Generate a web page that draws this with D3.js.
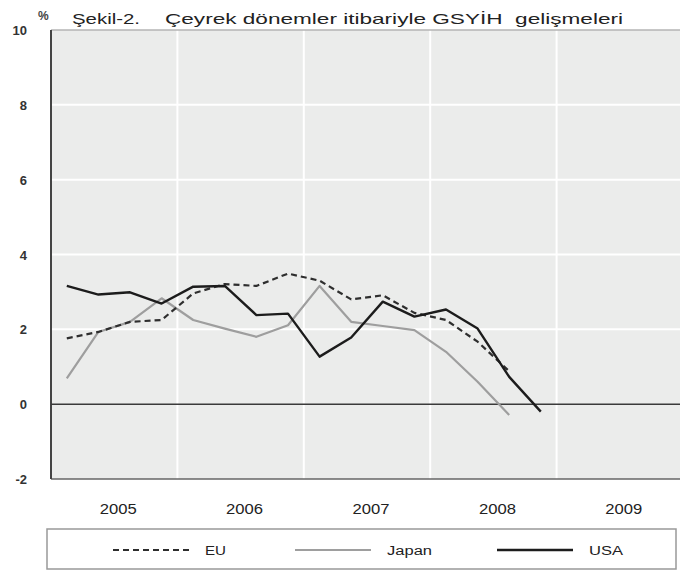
<!DOCTYPE html>
<html lang="tr">
<head>
<meta charset="UTF-8">
<title>Şekil-2</title>
<style>
  body { margin: 0; background: #fff; }
  text { font-family: "Liberation Sans", Arial, sans-serif; fill: #222; }
</style>
</head>
<body>
<div id="chart"></div>
<script src="https://cdn.jsdelivr.net/npm/d3@7"></script>
<script>
// data (quarterly GDP growth, %)
const years = [2005, 2006, 2007, 2008, 2009];
const quarters = ["2005Q1","2005Q2","2005Q3","2005Q4","2006Q1","2006Q2","2006Q3","2006Q4",
                  "2007Q1","2007Q2","2007Q3","2007Q4","2008Q1","2008Q2","2008Q3","2008Q4"];
const euValues    = [1.76, 1.93, 2.2, 2.25, 2.96, 3.21, 3.16, 3.49, 3.3, 2.8, 2.91, 2.44, 2.25, 1.67, 0.88];
const japanValues = [0.69, 1.93, 2.2, 2.83, 2.25, 2.02, 1.8, 2.11, 3.16, 2.2, 2.09, 1.98, 1.4, 0.6, -0.29];
const usaValues   = [3.16, 2.93, 2.99, 2.69, 3.14, 3.16, 2.38, 2.42, 1.27, 1.78, 2.74, 2.34, 2.53, 2.02, 0.73, -0.2];
const yTicks = [-2, 0, 2, 4, 6, 8, 10];
const seriesNames = ["EU", "Japan", "USA"];

const width = 680, height = 573;
const plot = {left: 51, right: 683, top: 30, bottom: 479};

const svg = d3.select("#chart").append("svg")
  .attr("width", width)
  .attr("height", height);

const x = d3.scaleLinear().domain([2005, 2010]).range([plot.left, plot.right]);
const y = d3.scaleLinear().domain([-2, 10]).range([plot.bottom, plot.top]);

// quarter -> year fraction (middle of the quarter)
const qx = q => x(+q.slice(0, 4) + (+q.slice(5) - 0.5) / 4);

// plot background
svg.append("rect")
  .attr("x", plot.left).attr("y", plot.top)
  .attr("width", plot.right - plot.left).attr("height", plot.bottom - plot.top)
  .attr("fill", "#ebeceb");

// white grid
svg.append("g").selectAll("line")
  .data(yTicks.filter(d => d > 0 && d < 10))
  .join("line")
    .attr("x1", plot.left).attr("x2", plot.right)
    .attr("y1", d => y(d)).attr("y2", d => y(d))
    .attr("stroke", "#fff").attr("stroke-width", 2);
svg.append("g").selectAll("line")
  .data(years.slice(1))
  .join("line")
    .attr("x1", d => x(d)).attr("x2", d => x(d))
    .attr("y1", plot.top).attr("y2", plot.bottom)
    .attr("stroke", "#fff").attr("stroke-width", 2);

// frame
svg.append("line")
  .attr("x1", plot.left).attr("x2", plot.right)
  .attr("y1", plot.top).attr("y2", plot.top)
  .attr("stroke", "#b5b5b5").attr("stroke-width", 1.5);
svg.append("line")
  .attr("x1", plot.left).attr("x2", plot.right)
  .attr("y1", plot.bottom).attr("y2", plot.bottom)
  .attr("stroke", "#666").attr("stroke-width", 1.5);
svg.append("line")
  .attr("x1", plot.left).attr("x2", plot.left)
  .attr("y1", plot.top).attr("y2", plot.bottom)
  .attr("stroke", "#444").attr("stroke-width", 2);
// zero line
svg.append("line")
  .attr("x1", plot.left).attr("x2", plot.right)
  .attr("y1", y(0)).attr("y2", y(0))
  .attr("stroke", "#3a3a3a").attr("stroke-width", 1.5);

// y labels
svg.append("g").selectAll("text")
  .data(yTicks)
  .join("text")
    .attr("x", 27)
    .attr("y", d => y(d) + 5)
    .attr("text-anchor", "end")
    .attr("font-size", 13)
    .attr("font-weight", "bold")
    .style("fill", "#333")
    .text(d => d);

// x labels (one per year, centred in the year)
svg.append("g").selectAll("text")
  .data(years)
  .join("text")
    .attr("x", d => x(d + 0.5) + 4)
    .attr("y", 514)
    .attr("text-anchor", "middle")
    .attr("font-size", 14)
    .attr("textLength", 37)
    .attr("lengthAdjust", "spacingAndGlyphs")
    .text(d => d);

// title
svg.append("text").attr("x", 38).attr("y", 20)
  .attr("font-size", 12).attr("font-weight", "bold").style("fill", "#444").text("%");
svg.append("text").attr("x", 72).attr("y", 24)
  .attr("font-size", 15)
  .attr("textLength", 68).attr("lengthAdjust", "spacingAndGlyphs")
  .text("Şekil-2.");
svg.append("text").attr("x", 165).attr("y", 24)
  .attr("font-size", 15)
  .attr("textLength", 458).attr("lengthAdjust", "spacingAndGlyphs")
  .text("Çeyrek dönemler itibariyle GSYİH\u00a0 gelişmeleri");

// lines
const line = d3.line()
  .x((d, i) => qx(quarters[i]))
  .y(d => y(d));

const styles = {
  EU:    {values: euValues,    stroke: "#2e2e2e", width: 2.2, dash: "6,4"},
  Japan: {values: japanValues, stroke: "#9e9e9e", width: 2.2, dash: null},
  USA:   {values: usaValues,   stroke: "#1c1c1c", width: 2.4, dash: null}
};

["Japan", "EU", "USA"].forEach(k => {
  svg.append("path")
    .attr("d", line(styles[k].values))
    .attr("fill", "none")
    .attr("stroke", styles[k].stroke)
    .attr("stroke-width", styles[k].width)
    .attr("stroke-dasharray", styles[k].dash)
    .attr("stroke-linejoin", "round");
});

// legend
const legend = svg.append("g");
legend.append("rect")
  .attr("x", 47).attr("y", 529).attr("width", 629).attr("height", 40)
  .attr("fill", "#fff").attr("stroke", "#999").attr("stroke-width", 1.5);

const legendX = {EU: 113, Japan: 295, USA: 497};
const legendTextLen = {EU: 21, Japan: 45, USA: 34};
seriesNames.forEach(k => {
  legend.append("line")
    .attr("x1", legendX[k]).attr("x2", legendX[k] + 76)
    .attr("y1", 550).attr("y2", 550)
    .attr("stroke", styles[k].stroke)
    .attr("stroke-width", styles[k].width)
    .attr("stroke-dasharray", styles[k].dash);
  legend.append("text")
    .attr("x", legendX[k] + 92)
    .attr("y", 555)
    .attr("font-size", 12.5)
    .attr("textLength", legendTextLen[k])
    .attr("lengthAdjust", "spacingAndGlyphs")
    .text(k);
});
</script>
</body>
</html>
